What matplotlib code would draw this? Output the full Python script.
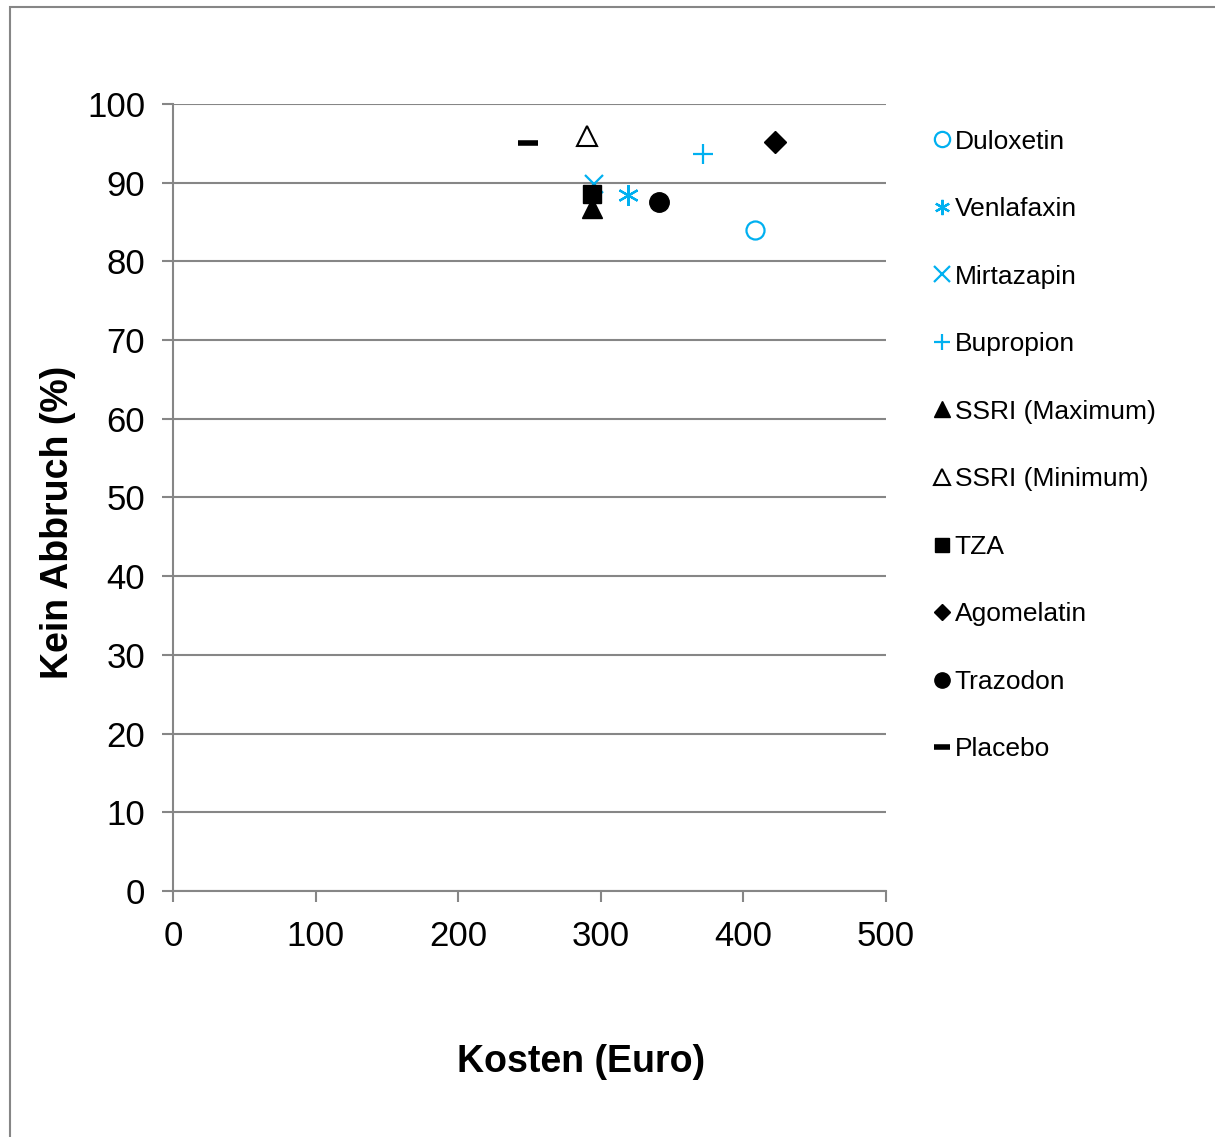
import matplotlib.pyplot as plt
from matplotlib.patches import Rectangle

plt.rcParams['font.family'] = ['Liberation Sans', 'DejaVu Sans']

# data (Kosten in Euro, Kein Abbruch in %)
drugs = ["Duloxetin", "Venlafaxin", "Mirtazapin", "Bupropion", "SSRI (Maximum)",
         "SSRI (Minimum)", "TZA", "Agomelatin", "Trazodon", "Placebo"]
kosten = [408, 319, 295, 372, 294, 290, 294, 422, 341, 249]
kein_abbruch = [84.0, 88.5, 89.8, 93.6, 86.8, 96.0, 88.6, 95.2, 87.5, 95.0]

blue = "#00B0F0"
styles = [
    dict(marker="o", mfc="none", mec=blue, ms=13, mew=1.6),
    dict(marker=(6, 2, 0), mfc="none", mec=blue, ms=15, mew=1.6),
    dict(marker="x", mfc="none", mec=blue, ms=13, mew=1.6),
    dict(marker="+", mfc="none", mec=blue, ms=15, mew=1.6),
    dict(marker="^", mfc="black", mec="black", ms=14, mew=1),
    dict(marker="^", mfc="white", mec="black", ms=14, mew=1.5),
    dict(marker="s", mfc="black", mec="black", ms=13, mew=1),
    dict(marker="D", mfc="black", mec="black", ms=11, mew=1),
    dict(marker="o", mfc="black", mec="black", ms=14, mew=1),
    dict(marker="_", mfc="black", mec="black", ms=14, mew=4),
]

fig = plt.figure(figsize=(12.15, 11.37), dpi=100)
ax = fig.add_axes([0.1424, 0.2164, 0.5868, 0.6921])

for name, x, y, st in zip(drugs, kosten, kein_abbruch, styles):
    ax.plot([x], [y], linestyle="none", label=name, **st)

ax.set_xlim(0, 500)
ax.set_ylim(0, 100)
ax.set_xticks(range(0, 501, 100))
ax.set_yticks(range(0, 101, 10))
ax.grid(axis="y", color="#868686", linewidth=1.5)
ax.set_axisbelow(True)
for side in ["top", "right"]:
    ax.spines[side].set_visible(False)
for side in ["left", "bottom"]:
    ax.spines[side].set_color("#868686")
    ax.spines[side].set_linewidth(1.5)
ax.tick_params(axis="both", colors="#868686", width=1.5, length=8,
               labelsize=25, labelcolor="black")
ax.tick_params(axis="x", pad=13)
ax.tick_params(axis="y", pad=12)

ax.set_xlabel("Kosten (Euro)", fontsize=27, fontweight="bold")
ax.set_ylabel("Kein Abbruch (%)", fontsize=27, fontweight="bold")
ax.xaxis.set_label_coords((581 - 173) / 713, -(1062 - 891) / 787)
ax.yaxis.set_label_coords(-(173 - 58) / 713, (891 - 522) / 787)
ax.xaxis.label.set_va("center")
ax.yaxis.label.set_va("center")

leg = ax.legend(loc="upper left", bbox_to_anchor=(1.05, 0.981), frameon=False,
                fontsize=19, labelspacing=1.65, handlelength=0.75,
                handletextpad=0.1, borderaxespad=0)
for h in leg.legend_handles:
    h.set_markersize(11)
leg.legend_handles[7].set_markersize(8)
leg.legend_handles[6].set_markersize(10)

fig.patches.append(Rectangle((10 / 1215, -0.05), 1.1, 1.05 - 7 / 1137,
                             transform=fig.transFigure, fill=False,
                             edgecolor="#868686", linewidth=1.5))

fig.savefig("out.png", dpi=100)
